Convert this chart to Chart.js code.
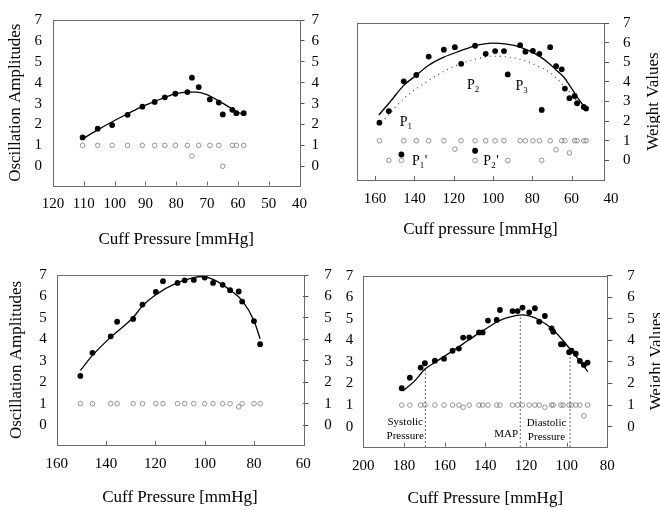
<!DOCTYPE html>
<html><head><meta charset="utf-8">
<script src="https://cdn.jsdelivr.net/npm/chart.js@4.4.0/dist/chart.umd.min.js"></script>
<style>
html,body{margin:0;padding:0;background:#fff;}
#wrap{position:relative;width:660px;height:510px;overflow:hidden;background:#fff;}
canvas{position:absolute;}
</style></head><body>
<div id="wrap">
<canvas id="c1" width="330" height="250" style="left:0;top:0"></canvas>
<canvas id="c2" width="330" height="250" style="left:330px;top:0"></canvas>
<canvas id="c3" width="345" height="260" style="left:0;top:250px"></canvas>
<canvas id="c4" width="320" height="260" style="left:340px;top:250px"></canvas>
</div>
<script>
// ---------- DATA ----------
const yTicks = [0,1,2,3,4,5,6,7];

// Panel 1 (top-left)
const p1XTicks = [120,110,100,90,80,70,60,50,40];
const amp1X = [110.4,105.5,100.8,95.8,91.0,87.0,83.7,80.3,76.4,74.9,72.7,69.1,66.2,64.9,61.8,60.5,58.1];
const amp1Y = [1.38,1.80,1.97,2.46,2.85,3.08,3.30,3.47,3.55,4.24,3.79,3.20,3.05,2.48,2.70,2.54,2.54];
const w1    = [1,1,1,1,1,1,1,1,1,0.5,1,1,1,0,1,1,1];
const curve1X = [110.4,105.5,100.8,95.8,91.0,87.0,83.7,80.3,76.4,73.5,70.3,66.2,62.7,60.5,58.1];
const curve1Y = [1.31,1.74,2.13,2.51,2.87,3.10,3.30,3.47,3.55,3.55,3.44,3.13,2.82,2.62,2.48];

// Panel 2 (top-right)
const p2XTicks = [160,140,120,100,80,60,40];
const amp2X = [157.8,153.0,146.6,145.4,139.0,132.7,125.0,119.4,116.2,109.1,109.1,103.7,98.9,94.4,92.5,86.2,83.5,79.7,76.4,75.2,70.9,67.9,65.0,63.4,61.1,58.4,57.2,53.8,52.6];
const amp2Y = [1.92,2.51,0.30,4.03,4.35,5.29,5.64,5.77,4.92,5.84,0.49,5.43,5.57,5.57,4.38,5.87,5.54,5.58,5.43,2.57,5.77,4.80,4.64,3.66,3.17,3.28,2.91,2.72,2.64];
const w2    = [1,0,0,1,1,1,1,0.57,1,1,0,1,1,1,0,1,1,1,1,0,1,0.54,1,1,0.38,1,1,1,1];
const curve2X = [158.1,152.2,145.4,139.0,132.7,125.0,116.6,109.1,100.5,93.0,86.2,76.4,71.0,67.9,64.0,61.1,55.6,53.1];
const curve2Y = [2.31,3.00,3.82,4.34,4.85,5.26,5.58,5.84,5.97,5.92,5.77,5.31,4.90,4.61,4.25,3.84,3.00,2.69];
const dotted2X = [155.0,145.4,132.7,125.0,116.6,109.1,100.0,86.2,76.4,70.9,65.0,60.8,55.6,53.5];
const dotted2Y = [2.10,3.15,4.07,4.54,4.92,5.15,5.31,5.15,4.77,4.46,3.92,3.46,2.84,2.65];
const pLabelX = [147.4,113.2,88.6,141.2,104.9];
const pLabelY = [1.77,3.66,3.57,-0.23,-0.23];
const pLabelSub = ['1','2','3','1','2'];
const pLabelPrime = [false,false,false,true,true];

// Panel 3 (bottom-left)
const p3XTicks = [160,140,120,100,80,60];
const amp3X = [150.4,145.5,138.1,135.5,129.0,125.2,119.8,116.9,111.0,108.1,104.4,100.0,96.6,92.7,89.7,86.2,84.8,80.0,77.5];
const amp3Y = [2.29,3.37,4.14,4.82,4.95,5.62,6.21,6.71,6.63,6.75,6.77,6.88,6.63,6.54,6.29,6.23,5.76,4.85,3.77];
const w3    = [1,1,1,1,1,1,1,1,1,1,1,1,1,1,1,0.85,1,1,1];
const curve3X = [150.4,145.5,138.1,129.0,125.2,119.8,111.0,104.4,101.0,96.6,89.7,84.8,80.0,77.5];
const curve3Y = [2.55,3.25,4.10,5.02,5.56,6.08,6.64,6.88,6.93,6.80,6.30,5.80,4.87,4.02];

// Panel 4 (bottom-right)
const p4XTicks = [200,180,160,140,120,100,80];
const amp4X = [181.1,177.1,171.8,169.7,164.8,160.3,156.1,153.0,150.9,147.9,143.1,141.3,138.7,134.4,132.8,126.6,124.1,121.7,118.4,115.6,113.5,110.7,107.4,106.6,102.8,101.7,98.8,97.6,95.5,93.5,91.5,89.7];
const amp4Y = [1.78,2.27,2.74,2.94,3.06,3.15,3.52,3.62,4.13,4.14,4.37,4.37,4.92,4.95,5.41,5.36,5.36,5.52,5.30,5.49,4.87,5.13,4.56,4.40,3.82,3.82,3.45,3.52,3.38,3.05,2.86,2.97];
const w4    = [1,1,1,1,1,1,1,1,0.9,1,1,1,1,1,1,1,1,1,1,1,1,0.9,1,1,1,1,1,1,1,1,0.5,1];
const curve4X = [180.6,175.0,169.5,164.8,160.0,155.0,150.0,145.0,140.0,135.0,130.0,125.0,122.0,118.0,113.0,107.0,102.0,98.0,94.0,89.6];
const curve4Y = [1.65,2.10,2.68,2.98,3.27,3.58,3.90,4.22,4.52,4.82,5.03,5.15,5.18,5.12,4.92,4.52,4.02,3.56,3.10,2.55];
const markX4   = [169.5,122.8,98.3];       // Systolic, MAP, Diastolic
const markTop4 = [2.66,5.16,3.52];
const noteText4 = ['Systolic','Pressure','MAP','Diastolic','Pressure'];
const noteX4 = [179.4,179.4,129.7,109.9,109.9];
const noteY4 = [0.20,-0.42,-0.34,0.17,-0.47];

// ---------- RENDER ----------
const FONT = '"Liberation Serif", "Times New Roman", serif';
Chart.defaults.font.family = FONT;
Chart.defaults.font.size = 15;
Chart.defaults.color = '#000';

const pts = (xs, ys) => xs.map((x,i) => ({x, y: ys[i]}));

function ampSet(xs, ys) {
  return {data: pts(xs, ys), showLine:false, pointRadius:2.9, pointHoverRadius:2.9,
          pointBackgroundColor:'#000', pointBorderColor:'#000', pointBorderWidth:0, yAxisID:'y'};
}
function wSet(xs, ws) {
  return {data: pts(xs, ws), showLine:false, pointRadius:2.3, pointHoverRadius:2.3,
          pointBackgroundColor:'rgba(255,255,255,0)', pointBorderColor:'#7a7a7a', pointBorderWidth:0.8, yAxisID:'y1'};
}
function curveSet(xs, ys, dash) {
  return {data: pts(xs, ys), showLine:true, pointRadius:0, borderColor: dash ? '#333' : '#000',
          borderWidth: dash ? 1.1 : 1.3, borderDash: dash || [], cubicInterpolationMode:'monotone',
          fill:false, yAxisID:'y'};
}

const DECO = {};
const deco = {
  id: 'deco',
  afterDraw(chart) {
    const cfg = DECO[chart.canvas.id] || {};
    const ctx = chart.ctx, a = chart.chartArea, xs = chart.scales.x, ys = chart.scales.y;
    ctx.save();
    ctx.strokeStyle = '#6a6a6a'; ctx.lineWidth = 1;
    ctx.strokeRect(Math.round(a.left)+0.5, Math.round(a.top)+0.5, Math.round(a.right-a.left), Math.round(a.bottom-a.top));
    ctx.beginPath();
    xs.ticks.forEach(t => {
      const px = Math.round(xs.getPixelForValue(t.value)) + 0.5;
      if (px > a.left + 2 && px < a.right - 2) { ctx.moveTo(px, a.bottom); ctx.lineTo(px, a.bottom - 4); }
    });
    ctx.stroke();
    ctx.fillStyle = '#000';
    if (cfg.rightTitle) {
      ctx.save();
      ctx.translate(cfg.rightTitleX, (a.top + a.bottom) / 2);
      ctx.rotate(-Math.PI / 2);
      ctx.font = '17px ' + FONT; ctx.textAlign = 'center'; ctx.textBaseline = 'middle';
      ctx.fillText(cfg.rightTitle, 0, 0);
      ctx.restore();
    }
    if (cfg.pLabels) {
      const L = cfg.pLabels;
      L.x.forEach((xv, i) => {
        const px = xs.getPixelForValue(xv), py = ys.getPixelForValue(L.y[i]);
        ctx.textAlign = 'left'; ctx.textBaseline = 'alphabetic';
        ctx.font = '14px ' + FONT;
        ctx.fillText('P', px, py);
        const w = ctx.measureText('P').width;
        ctx.font = '9px ' + FONT;
        ctx.fillText(L.sub[i], px + w, py + 3);
        const ws = ctx.measureText(L.sub[i]).width;
        if (L.prime[i]) { ctx.font = '14px ' + FONT; ctx.fillText("'", px + w + ws + 0.5, py); }
      });
    }
    if (cfg.notes) {
      const N = cfg.notes;
      ctx.font = '11px ' + FONT; ctx.textAlign = 'center'; ctx.textBaseline = 'middle';
      N.text.forEach((t, i) => ctx.fillText(t, xs.getPixelForValue(N.x[i]), ys.getPixelForValue(N.y[i])));
    }
    ctx.restore();
  }
};

function makeChart(id, p) {
  const cv = document.getElementById(id);
  const W = cv.width, H = cv.height;
  const setTicks = arr => s => { s.ticks = arr.map(v => ({value: v})); };
  new Chart(cv.getContext('2d'), {
    type: 'line',
    data: { datasets: p.datasets },
    options: {
      responsive: false, animation: false, events: [],
      layout: { padding: { top: p.area.top, left: 0, right: 0, bottom: 0 } },
      plugins: { legend: {display:false}, tooltip: {enabled:false}, title:{display:false} },
      scales: {
        x: { type:'linear', reverse:true, min:p.xMin, max:p.xMax,
             afterBuildTicks: setTicks(p.xTicks),
             afterFit: s => { s.height = H - p.area.bottom; },
             grid: {display:false, drawTicks:false, tickLength:0}, border: {display:false},
             ticks: {padding:p.xPad, maxRotation:0, autoSkip:false, color:'#000', font:{size:15}},
             title: {display:true, text:p.xTitle, color:'#000', font:{size:17}, padding:{top:0, bottom:p.xTitlePad}} },
        y: { type:'linear', position:'left', min:p.yMin, max:7,
             afterBuildTicks: setTicks(yTicks),
             afterFit: s => { s.width = p.area.left; },
             grid: {display:false, drawTicks:false, tickLength:0}, border: {display:false},
             ticks: {display:p.leftLabels, padding:p.yPad, color:'#000', font:{size:15}},
             title: {display:!!p.yTitle, text:p.yTitle || '', color:'#000', font:{size:17}, padding:{top:p.yTitlePad || 0, bottom:0}} },
        y1: { type:'linear', position:'right', min:p.yMin, max:7,
             afterBuildTicks: setTicks(yTicks),
             afterFit: s => { s.width = W - p.area.right; },
             grid: {display:true, drawOnChartArea:false, drawTicks:true, tickLength:5, color:'#555', lineWidth:1},
             border: {display:false},
             ticks: {padding:p.y1Pad, color:'#000', font:{size:15}} }
      }
    },
    plugins: [deco]
  });
}

// Panel 1
makeChart('c1', {
  area: {left:53, right:299.5, top:14.3, bottom:185.5},
  xMin:40, xMax:120, xTicks:p1XTicks, yMin:-0.92, leftLabels:true,
  xPad:10, xTitle:'Cuff Pressure [mmHg]', xTitlePad:0,
  yPad:11, yTitle:'Oscillation Amplitudes', yTitlePad:5.5, y1Pad:7,
  datasets: [ampSet(amp1X, amp1Y), wSet(amp1X, w1), curveSet(curve1X, curve1Y)]
});

// Panel 2
DECO.c2 = { rightTitle:'Weight Values', rightTitleX:324,
  pLabels: {x:pLabelX, y:pLabelY, sub:pLabelSub, prime:pLabelPrime} };
makeChart('c2', {
  area: {left:27, right:274, top:6.7, bottom:180},
  xMin:43.5, xMax:169.2, xTicks:p2XTicks, yMin:-1, leftLabels:false,
  xPad:10, xTitle:'Cuff pressure [mmHg]', xTitlePad:9.8,
  yPad:10, y1Pad:14,
  datasets: [ampSet(amp2X, amp2Y), wSet(amp2X, w2), curveSet(curve2X, curve2Y), curveSet(dotted2X, dotted2Y, [1,4])]
});

// Panel 3
makeChart('c3', {
  area: {left:56.7, right:303.3, top:24, bottom:195},
  xMin:60, xMax:160, xTicks:p3XTicks, yMin:-0.93, leftLabels:true,
  xPad:10.5, xTitle:'Cuff Pressure [mmHg]', xTitlePad:2.3,
  yPad:10, yTitle:'Oscillation Amplitudes', yTitlePad:6.8, y1Pad:16,
  datasets: [ampSet(amp3X, amp3Y), wSet(amp3X, w3), curveSet(curve3X, curve3Y)]
});

// Panel 4
DECO.c4 = { rightTitle:'Weight Values', rightTitleX:316.5,
  notes: {text:noteText4, x:noteX4, y:noteY4} };
const yMin4 = -0.93;
const markSets = markX4.map((x, i) => ({
  data: [{x, y:yMin4}, {x, y:markTop4[i]}], showLine:true, pointRadius:0,
  borderColor:'#000', borderWidth:1, borderDash:[1.2,2.8], yAxisID:'y'
}));
makeChart('c4', {
  area: {left:23.3, right:267.3, top:25.7, bottom:196.7},
  xMin:80, xMax:200, xTicks:p4XTicks, yMin:yMin4, leftLabels:true,
  xPad:10.3, xTitle:'Cuff Pressure [mmHg]', xTitlePad:1.5,
  yPad:10, y1Pad:15,
  datasets: [ampSet(amp4X, amp4Y), wSet(amp4X, w4), curveSet(curve4X, curve4Y)].concat(markSets)
});
</script>
</body></html>
